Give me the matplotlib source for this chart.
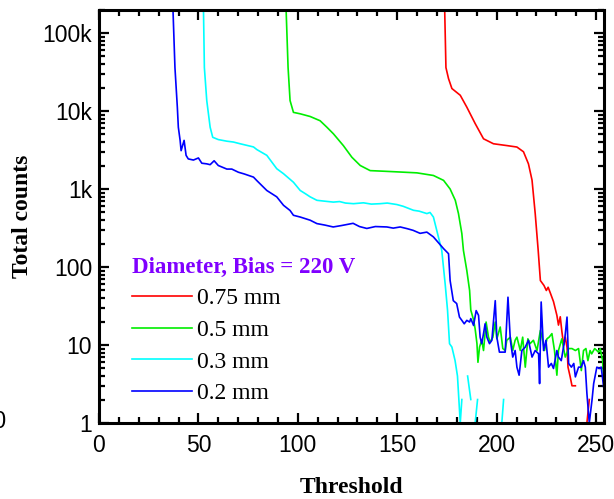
import matplotlib
matplotlib.use("Agg")
import matplotlib.pyplot as plt
import matplotlib.ticker as ticker
import numpy as np

# threshold scans, total counts per threshold step (0 = no counts, left as a gap on the log axis)
thr_075 = [173.8, 174.5, 175.8, 177.5, 181.7, 185.0, 189.2, 193.4, 198.4, 205.2,
           210.2, 213.5, 216.0, 217.8, 219.4, 220.9, 222.0, 223.8, 225.0, 225.9,
           227.2, 228.6, 230.3, 231.1, 232.0, 232.8, 233.7, 234.5, 235.4, 235.9,
           237.0, 237.9, 239.6, 241.0, 245.4, 246.6, 248.0, 252.5, 253.5, 254.0]
cnt_075 = [2.4e5, 36000, 26000, 19400, 15900, 11200, 6900, 4400, 3800, 3600,
           3450, 3000, 2100, 1300, 484, 163, 67, 58, 50, 55,
           45, 36, 24, 18, 23, 15, 10, 12.6, 9.4, 5.2,
           3.9, 3.0, 3.0, 0, 1, 2, 0, 0, 1, 1]

thr_05 = [94.0, 95.1, 96.1, 97.8, 101.2, 106.2, 111.2, 114.6, 117.9, 122.9,
          127.2, 131.4, 136.4, 143.1, 151.5, 159.9, 168.2, 173.3, 176.6, 179.2,
          180.8, 182.5, 183.3, 185.0, 186.4, 187.0, 188.4, 189.2, 190.1, 190.6,
          191.4, 192.5, 193.4, 194.7, 195.9, 196.8, 198.1, 199.3, 200.1, 201.8,
          203.1, 204.3, 205.1, 206.9, 208.1, 209.3, 210.2, 211.9, 213.1, 214.4,
          215.7, 216.8, 218.5, 220.3, 222.0, 222.8, 224.1, 225.3, 226.4, 227.8,
          229.1, 230.3, 231.1, 232.8, 234.5, 236.2, 237.9, 239.6, 241.2, 242.6,
          243.7, 244.9, 245.9, 247.0, 247.8, 249.3, 250.4, 251.2, 252.1, 253.3, 254.0]
cnt_05 = [2.4e5, 36000, 13600, 9600, 9200, 8500, 7500, 6200, 5100, 3600,
          2550, 2000, 1720, 1690, 1650, 1610, 1490, 1290, 1000, 716,
          484, 268, 163, 90, 50, 28, 21, 16, 10.4, 6,
          9.4, 11.5, 8.5, 19.7, 12.6, 10.9, 12.6, 19.7, 12, 17,
          9, 8.5, 11.5, 12.6, 8.5, 11.5, 12.6, 8.5, 12.6, 5.2,
          12, 10.4, 11.5, 8.5, 15.4, 12.6, 8.5, 12, 12.6, 14,
          8.5, 4.1, 8.5, 12, 7, 9, 9, 8.5, 9, 4.7,
          8.5, 9, 6.3, 8.5, 7.7, 9, 8.5, 8.1, 9, 6.3, 3]

thr_03 = [52.5, 53.0, 54.2, 55.9, 57.2, 60.0, 64.3, 67.6, 71.0, 77.7,
          79.4, 84.4, 89.4, 92.8, 97.8, 101.2, 103.8, 106.2, 109.6, 113.0,
          117.9, 121.0, 124.0, 128.0, 133.0, 137.0, 141.4, 145.0, 149.8, 153.0,
          158.2, 161.0, 164.9, 166.5, 168.2, 172.4, 174.1, 175.3, 176.3, 177.5,
          179.1, 180.3, 181.0, 181.7, 182.5, 183.5, 184.4, 185.4, 187.0, 188.0,
          189.2, 190.4, 191.5, 194.8, 195.9, 198.4, 199.5, 201.5, 202.6, 203.5,
          204.5, 207.5, 208.5, 209.5, 210.5, 254.0]
cnt_03 = [2.4e5, 36000, 13600, 6200, 4600, 4300, 4100, 4000, 3800, 3460,
          3200, 2700, 1820, 1570, 1220, 957, 870, 793, 716, 700,
          679, 690, 660, 648, 665, 640, 648, 660, 632, 600,
          533, 520, 484, 500, 437, 163, 61, 28, 10.4, 9.4,
          6.3, 4, 2, 1, 2, 0, 0, 4, 2, 0,
          1, 2, 0, 0, 1, 1, 0, 0, 1, 2,
          0, 0, 1, 1, 0, 0]

thr_02 = [37.1, 38.2, 39.4, 39.9, 40.8, 41.3, 42.8, 43.8, 44.9, 47.5,
          50.0, 51.7, 54.2, 55.9, 57.9, 60.0, 64.3, 66.8, 70.1, 73.0,
          77.7, 79.4, 84.4, 89.4, 92.8, 96.1, 97.8, 101.2, 106.2, 109.6,
          113.5, 117.8, 122.0, 127.8, 131.0, 134.7, 139.0, 144.8, 148.0, 151.5,
          155.0, 158.0, 161.5, 164.9, 168.2, 173.3, 175.8, 176.6, 178.2, 179.9,
          181.3, 182.5, 183.7, 185.0, 186.4, 187.0, 188.4, 189.7, 190.9, 191.7,
          192.5, 193.4, 194.2, 195.1, 196.4, 197.6, 199.3, 200.1, 201.4, 204.3,
          205.7, 206.9, 208.1, 209.3, 210.2, 211.3, 212.7, 214.4, 216.0, 217.8,
          219.4, 221.1, 221.6, 222.4, 223.6, 224.8, 226.1, 227.5, 228.6, 230.3,
          231.1, 232.5, 234.2, 235.4, 236.2, 237.6, 238.8, 239.6, 241.2, 242.5,
          243.7, 244.6, 245.4, 246.6, 248.0, 248.8, 250.4, 251.6, 252.6, 253.8]
cnt_02 = [2.4e5, 36000, 11200, 6200, 4200, 3100, 4200, 2700, 2430, 2350,
          2500, 2140, 2100, 2050, 2300, 2000, 1800, 1800, 1640, 1560,
          1420, 1280, 957, 793, 618, 530, 460, 437, 398, 360,
          345, 326, 340, 363, 330, 312, 330, 326, 315, 326,
          310, 295, 270, 280, 243, 172, 148, 67, 37, 34,
          22.8, 20.7, 18.7, 20.7, 19.7, 21.8, 17.8, 27.6, 24, 12.6,
          10.4, 14, 18.7, 12.6, 10.4, 11.5, 37, 12.6, 8.1, 8.1,
          41, 11.5, 7, 8.5, 5.2, 4.1, 8.5, 9.4, 11.5, 7,
          8.5, 7.7, 3.2, 35.6, 8.5, 11.5, 5.2, 5.8, 5, 8.5,
          7, 6.3, 11.5, 22.8, 5.8, 5.2, 5.8, 3.9, 5.2, 5.2,
          6.3, 5.2, 2.4, 1, 2, 3.2, 5.2, 5, 5.2, 2.9]

series = [
    (thr_075, cnt_075, "0.75 mm", "#ff0000"),
    (thr_05, cnt_05, "0.5 mm", "#00ee00"),
    (thr_03, cnt_03, "0.3 mm", "#00ffff"),
    (thr_02, cnt_02, "0.2 mm", "#0000ff"),
]

serif = ["Liberation Serif", "DejaVu Serif"]
sans = ["Liberation Sans", "DejaVu Sans"]

fig = plt.figure(figsize=(6.14, 4.99), dpi=100)
ax = fig.add_axes([99 / 614, 1 - 423 / 499, 505 / 614, 413.5 / 499])

for x, y, label, color in series:
    ax.plot(x, np.array(y, dtype=float), color=color, lw=1.2, label=label)

ax.set_yscale("log", nonpositive="mask")
ax.set_xlim(0, 254)
ax.set_ylim(1, 2e5)

ax.xaxis.set_major_locator(ticker.MultipleLocator(50))
ax.xaxis.set_minor_locator(ticker.MultipleLocator(10))
ax.yaxis.set_major_locator(ticker.LogLocator(base=10, numticks=10))
ax.yaxis.set_minor_locator(ticker.LogLocator(base=10, subs=np.arange(2, 10), numticks=10))
ax.yaxis.set_minor_formatter(ticker.NullFormatter())

def kfmt(v, _):
    if v >= 1000:
        return f"{v / 1000:g}k"
    return f"{v:g}"

ax.yaxis.set_major_formatter(ticker.FuncFormatter(kfmt))

ax.tick_params(which="both", direction="in", top=True, right=True, width=1.6)
ax.tick_params(which="major", length=7, labelsize=16.5)
ax.tick_params(which="minor", length=4)
ax.tick_params(axis="x", which="major", pad=8)
ax.tick_params(axis="y", which="major", pad=5)
for lab in ax.get_xticklabels() + ax.get_yticklabels():
    lab.set_family(sans)
for sp in ax.spines.values():
    sp.set_linewidth(2.2)

ax.set_xlabel("Threshold", family=serif, fontsize=17, fontweight="bold", labelpad=14)
ax.set_ylabel("Total counts", family=serif, fontsize=17, fontweight="bold", labelpad=7)

leg = ax.legend(loc="upper left", bbox_to_anchor=(0.047, 0.425), frameon=False,
                title="Diameter, Bias = 220 V",
                prop={"family": serif, "size": 17},
                handlelength=2.55, handletextpad=0.2, labelspacing=0.43,
                borderaxespad=0)
leg.get_title().set_fontfamily(serif)
leg.get_title().set_fontsize(16.5)
leg.get_title().set_fontweight("bold")
leg.get_title().set_color("#8000ff")
leg._legend_box.align = "left"

# edge of the neighbouring panel's tick label
fig.text(7 / 614, 1 - 421 / 499, "250", family=sans, fontsize=16.5, ha="right", va="center")

fig.savefig("out.png", dpi=100)
